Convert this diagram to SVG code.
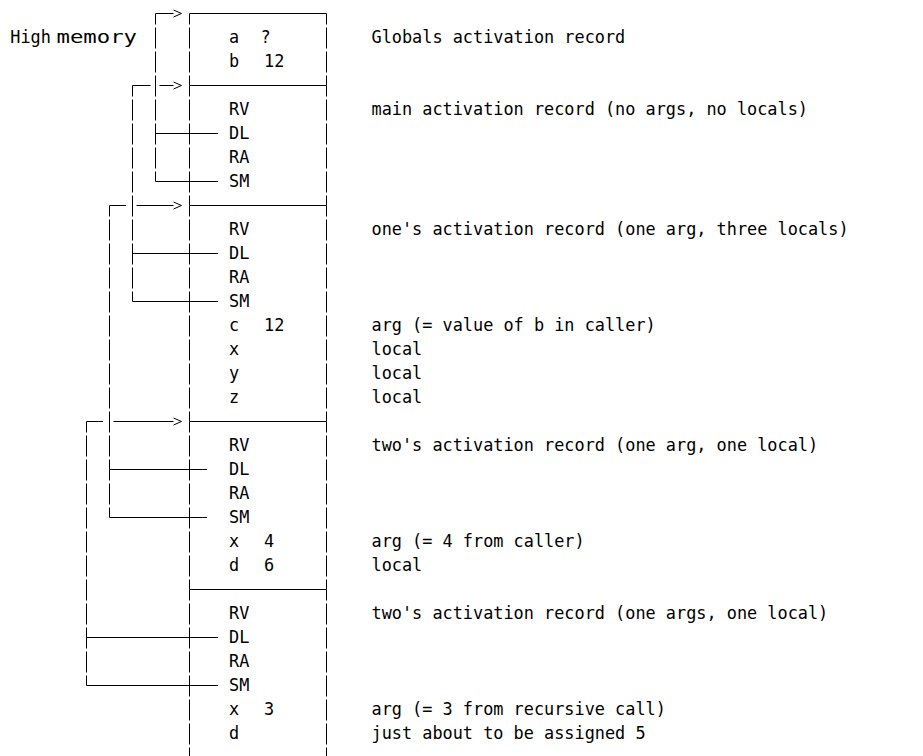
<svg xmlns="http://www.w3.org/2000/svg" width="923" height="756" viewBox="0 0 923 756">
<style>
.t{font-family:"DejaVu Sans Mono","Liberation Mono",monospace;font-size:16.86px;fill:#000}
.ln{stroke:#000;stroke-width:1;fill:none}
.v{stroke-dasharray:21 3;stroke-dashoffset:10}
</style>
<defs>
<marker id="chev" markerUnits="userSpaceOnUse" markerWidth="10" markerHeight="8" viewBox="0 0 10 8" refX="0" refY="4" orient="auto" overflow="visible">
<path d="M0,0.5 L8,4 L0,7.5" fill="none" stroke="#000" stroke-width="1"/>
</marker>
</defs>
<rect width="923" height="756" fill="#fff"/>

<g id="high-memory">
<text class="t" x="10.3" y="43">High</text>
<text class="t" x="56.5" y="43" textLength="80.5" lengthAdjust="spacingAndGlyphs">memory</text>
</g>

<g id="globals">
<line class="ln" x1="189.5" y1="13.5" x2="326.5" y2="13.5"/>
<line class="ln v" x1="189.5" y1="13.5" x2="189.5" y2="85.5"/>
<line class="ln v" x1="326.5" y1="13.5" x2="326.5" y2="85.5"/>
<text class="t" x="229" y="43">a</text><text class="t" x="260.5" y="43">?</text>
<text class="t" x="229" y="67">b</text><text class="t" x="264" y="67">12</text>
<text class="t" x="371.5" y="43">Globals activation record</text>
</g>

<g id="main">
<line class="ln" x1="189.5" y1="85.5" x2="326.5" y2="85.5"/>
<line class="ln v" x1="189.5" y1="85.5" x2="189.5" y2="205.5"/>
<line class="ln v" x1="326.5" y1="85.5" x2="326.5" y2="205.5"/>
<text class="t" x="229" y="115">RV</text>
<text class="t" x="229" y="139">DL</text>
<text class="t" x="229" y="163">RA</text>
<text class="t" x="229" y="187">SM</text>
<text class="t" x="371.5" y="115">main activation record (no args, no locals)</text>
</g>

<g id="one">
<line class="ln" x1="189.5" y1="205.5" x2="326.5" y2="205.5"/>
<line class="ln v" x1="189.5" y1="205.5" x2="189.5" y2="421.5"/>
<line class="ln v" x1="326.5" y1="205.5" x2="326.5" y2="421.5"/>
<text class="t" x="229" y="235">RV</text>
<text class="t" x="229" y="259">DL</text>
<text class="t" x="229" y="283">RA</text>
<text class="t" x="229" y="307">SM</text>
<text class="t" x="229" y="331">c</text><text class="t" x="264" y="331">12</text>
<text class="t" x="229" y="355">x</text>
<text class="t" x="229" y="379">y</text>
<text class="t" x="229" y="403">z</text>
<text class="t" x="371.5" y="235">one's activation record (one arg, three locals)</text>
<text class="t" x="371.5" y="331">arg (= value of b in caller)</text>
<text class="t" x="371.5" y="355">local</text>
<text class="t" x="371.5" y="379">local</text>
<text class="t" x="371.5" y="403">local</text>
</g>

<g id="two-1">
<line class="ln" x1="189.5" y1="421.5" x2="326.5" y2="421.5"/>
<line class="ln v" x1="189.5" y1="421.5" x2="189.5" y2="589.5"/>
<line class="ln v" x1="326.5" y1="421.5" x2="326.5" y2="589.5"/>
<text class="t" x="229" y="451">RV</text>
<text class="t" x="229" y="475">DL</text>
<text class="t" x="229" y="499">RA</text>
<text class="t" x="229" y="523">SM</text>
<text class="t" x="229" y="547">x</text><text class="t" x="264" y="547">4</text>
<text class="t" x="229" y="571">d</text><text class="t" x="264" y="571">6</text>
<text class="t" x="371.5" y="451">two's activation record (one arg, one local)</text>
<text class="t" x="371.5" y="547">arg (= 4 from caller)</text>
<text class="t" x="371.5" y="571">local</text>
</g>

<g id="two-2">
<line class="ln" x1="189.5" y1="589.5" x2="326.5" y2="589.5"/>
<line class="ln v" x1="189.5" y1="589.5" x2="189.5" y2="757"/>
<line class="ln v" x1="326.5" y1="589.5" x2="326.5" y2="757"/>
<text class="t" x="229" y="619">RV</text>
<text class="t" x="229" y="643">DL</text>
<text class="t" x="229" y="667">RA</text>
<text class="t" x="229" y="691">SM</text>
<text class="t" x="229" y="715">x</text><text class="t" x="264" y="715">3</text>
<text class="t" x="229" y="739">d</text>
<text class="t" x="371.5" y="619">two's activation record (one args, one local)</text>
<text class="t" x="371.5" y="715">arg (= 3 from recursive call)</text>
<text class="t" x="371.5" y="739">just about to be assigned 5</text>
</g>

<g id="connectors">
<g id="link-main-globals">
<path class="ln v" d="M155.5,13.5 V181.5"/>
<path class="ln" d="M155.5,133.5 H218 M155.5,181.5 H218"/>
<path class="ln" d="M155.5,13.5 H173.5" marker-end="url(#chev)"/>
</g>
<g id="link-one-main">
<path class="ln v" d="M132.5,85.5 V301.5"/>
<path class="ln" d="M132.5,253.5 H218 M132.5,301.5 H218"/>
<path class="ln" d="M132.5,85.5 H150.5 M159.5,85.5 H173.5" marker-end="url(#chev)"/>
</g>
<g id="link-two1-one">
<path class="ln v" d="M109.5,205.5 V517.5"/>
<path class="ln" d="M109.5,469.5 H207 M109.5,517.5 H207"/>
<path class="ln" d="M109.5,205.5 H126 M136.5,205.5 H173.5" marker-end="url(#chev)"/>
</g>
<g id="link-two2-two1">
<path class="ln v" d="M86.5,421.5 V685.5"/>
<path class="ln" d="M86.5,637.5 H218 M86.5,685.5 H218"/>
<path class="ln" d="M86.5,421.5 H103 M113.5,421.5 H173.5" marker-end="url(#chev)"/>
</g>
</g>
</svg>
